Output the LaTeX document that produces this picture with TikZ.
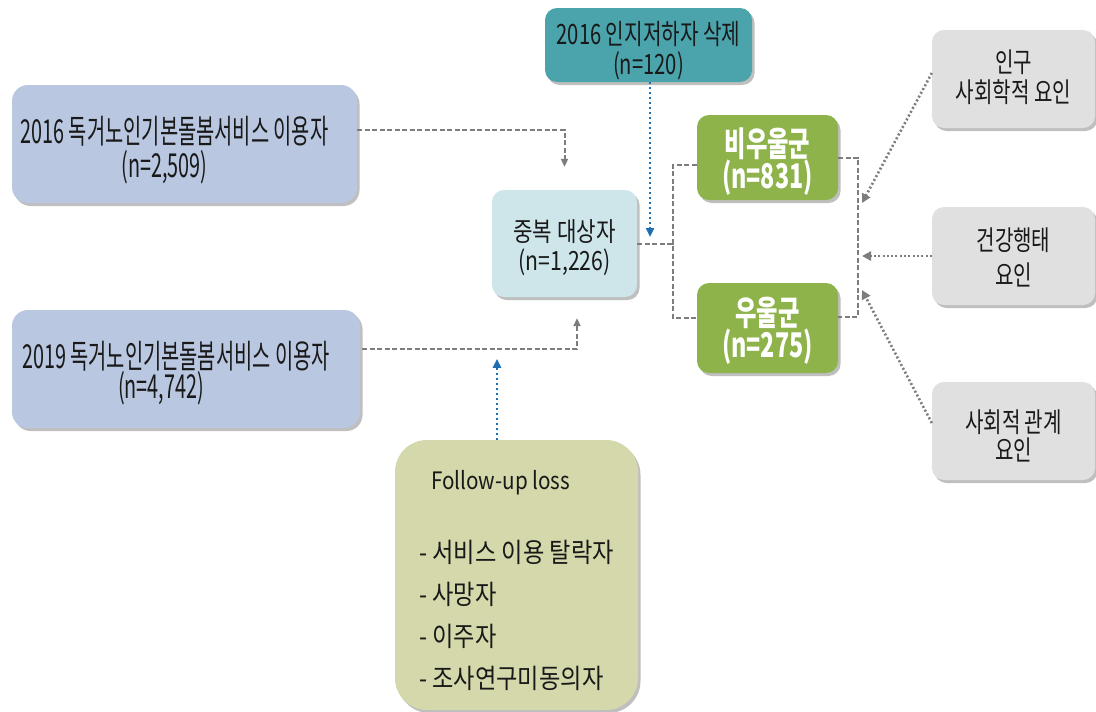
\documentclass[tikz,border=0pt]{standalone}
\usepackage{fontspec}
\newfontfamily\krA[FakeStretch=0.6]{Noto Sans CJK KR}
\newfontfamily\krC[FakeStretch=0.8]{Noto Sans CJK KR}
\newfontfamily\krD[FakeStretch=0.72]{Noto Sans CJK KR}
\newfontfamily\krE[FakeStretch=0.685]{Noto Sans CJK KR}
\newfontfamily\krG[FakeStretch=0.73]{Noto Sans CJK KR}
\newfontfamily\krJ[FakeStretch=0.86]{Noto Sans CJK KR}
\usetikzlibrary{arrows.meta,shadows}
\definecolor{boxA}{RGB}{185,199,224}
\definecolor{boxC}{RGB}{206,230,234}
\definecolor{boxD}{RGB}{75,163,172}
\definecolor{boxE}{RGB}{141,179,74}
\definecolor{boxG}{RGB}{224,224,224}
\definecolor{boxJ}{RGB}{212,216,170}
\definecolor{lgray}{RGB}{125,125,125}
\definecolor{bblue}{RGB}{30,110,180}
\definecolor{txt}{RGB}{25,25,25}
\tikzset{
  box/.style={rounded corners=12pt, inner sep=0pt, align=center, text=txt, text depth=10pt,
    drop shadow={shadow xshift=2.5pt, shadow yshift=-3pt, fill=black!50, opacity=0.5}},
  gdash/.style={draw=lgray, line width=2pt, dash pattern=on 5pt off 2.5pt},
  gdasharrow/.style={gdash, -{Triangle[width=7pt,length=8pt]}},
  gdot/.style={draw=lgray, line width=2.6pt, dash pattern=on 2pt off 2.3pt, -{Triangle[width=9pt,length=9pt]}},
  bdot/.style={draw=bblue, line width=2.6pt, dash pattern=on 2.2pt off 2.8pt, -{Triangle[width=8pt,length=9pt]}}
}
\begin{document}
\begin{tikzpicture}[x=1pt,y=-1pt]
\useasboundingbox (0,0) rectangle (1096,712);
\fill[white] (0,0) rectangle (1096,712);

% nodes
\node[box, fill=boxA, minimum width=345pt, minimum height=118pt, rounded corners=16pt,
  text height=77.2pt, font=\krA\fontsize{33}{34}\selectfont] (A) at (184.5,144)
  {2016 독거노인기본돌봄서비스 이용자\hspace*{20pt}\\(n=2,509)\hspace*{40pt}};
\node[box, fill=boxA, minimum width=348pt, minimum height=118pt, rounded corners=16pt,
  text height=69.2pt, font=\krA\fontsize{33}{30}\selectfont] (B) at (186,369)
  {2019 독거노인기본돌봄서비스 이용자\hspace*{20pt}\\(n=4,742)\hspace*{50pt}};
\node[box, fill=boxC, minimum width=145pt, minimum height=107pt,
  text height=64pt, font=\krC\fontsize{26.5}{29}\selectfont] (C) at (564.5,243.5)
  {중복 대상자\\(n=1,226)};
\node[box, fill=boxD, minimum width=207pt, minimum height=74pt,
  text height=60pt, text depth=2pt, font=\krD\fontsize{28}{30}\selectfont] (D) at (648.5,45)
  {2016 인지저하자 삭제\\(n=120)};
\node[box, fill=boxE, minimum width=141pt, minimum height=85pt, text=white,
  text height=67.8pt, text depth=5pt, font=\krE\bfseries\fontsize{34}{31}\selectfont] (E) at (767.5,157.5)
  {비우울군\\(n=831)};
\node[box, fill=boxE, minimum width=141pt, minimum height=90pt, text=white,
  text height=64.8pt, text depth=5pt, font=\krE\bfseries\fontsize{34}{32}\selectfont] (F) at (767.5,328)
  {우울군\\(n=275)};
\node[box, fill=boxG, minimum width=163pt, minimum height=98pt,
  text height=56.4pt, font=\krG\fontsize{27.5}{30}\selectfont] (G) at (1013.5,79)
  {인구\\사회학적 요인};
\node[box, fill=boxG, minimum width=163pt, minimum height=98pt,
  text height=68.4pt, font=\krG\fontsize{27.5}{35}\selectfont] (H) at (1013.5,256)
  {건강행태\\요인};
\node[box, fill=boxG, minimum width=163pt, minimum height=98pt,
  text height=68.4pt, font=\krG\fontsize{27.5}{28}\selectfont] (I) at (1013.5,431)
  {사회적 관계\\요인};
\node[box, fill=boxJ, minimum width=243pt, minimum height=270pt, rounded corners=32pt,
  align=flush left, text height=236pt,
  font=\krJ\fontsize{27}{42}\selectfont] (J) at (516.5,575)
  {\hspace*{12pt}{\fontsize{24}{24}\selectfont Follow-up loss}\\[31pt]
   - 서비스 이용 탈락자\\
   - 사망자\\
   - 이주자\\
   - 조사연구미동의자};

% coordinates
\coordinate (jl) at (673,243.5);
\coordinate (jr) at (858,240);
\coordinate (tg) at (862,203);
\coordinate (th) at (862,256);
\coordinate (ti) at (862,290);
\coordinate (dtip) at (650,237);

% connectors
\draw[gdasharrow] ([yshift=14pt]A.east) -| ([yshift=23pt]C.north);
\draw[gdasharrow] ([xshift=2pt,yshift=20pt]B.east) -| ([xshift=12.5pt,yshift=-21pt]C.south);
\draw[bdot] ([xshift=1.5pt]D.south) -- (dtip);
\draw[bdot] ([xshift=-19.5pt]J.north) -- ++(0,-81);
\draw[gdash] (C.east) -- (jl);
\draw[gdash] ([yshift=-7.5pt]E.west) -| (jl) |- ([yshift=10pt]F.west);
\draw[gdash] (E.east) -| (jr) |- ([yshift=11pt]F.east);
\draw[gdot] ([yshift=6pt]G.west) -- (tg);
\draw[gdot] (H.west) -- (th);
\draw[gdot] ([yshift=8pt]I.west) -- (ti);
\end{tikzpicture}
\end{document}
